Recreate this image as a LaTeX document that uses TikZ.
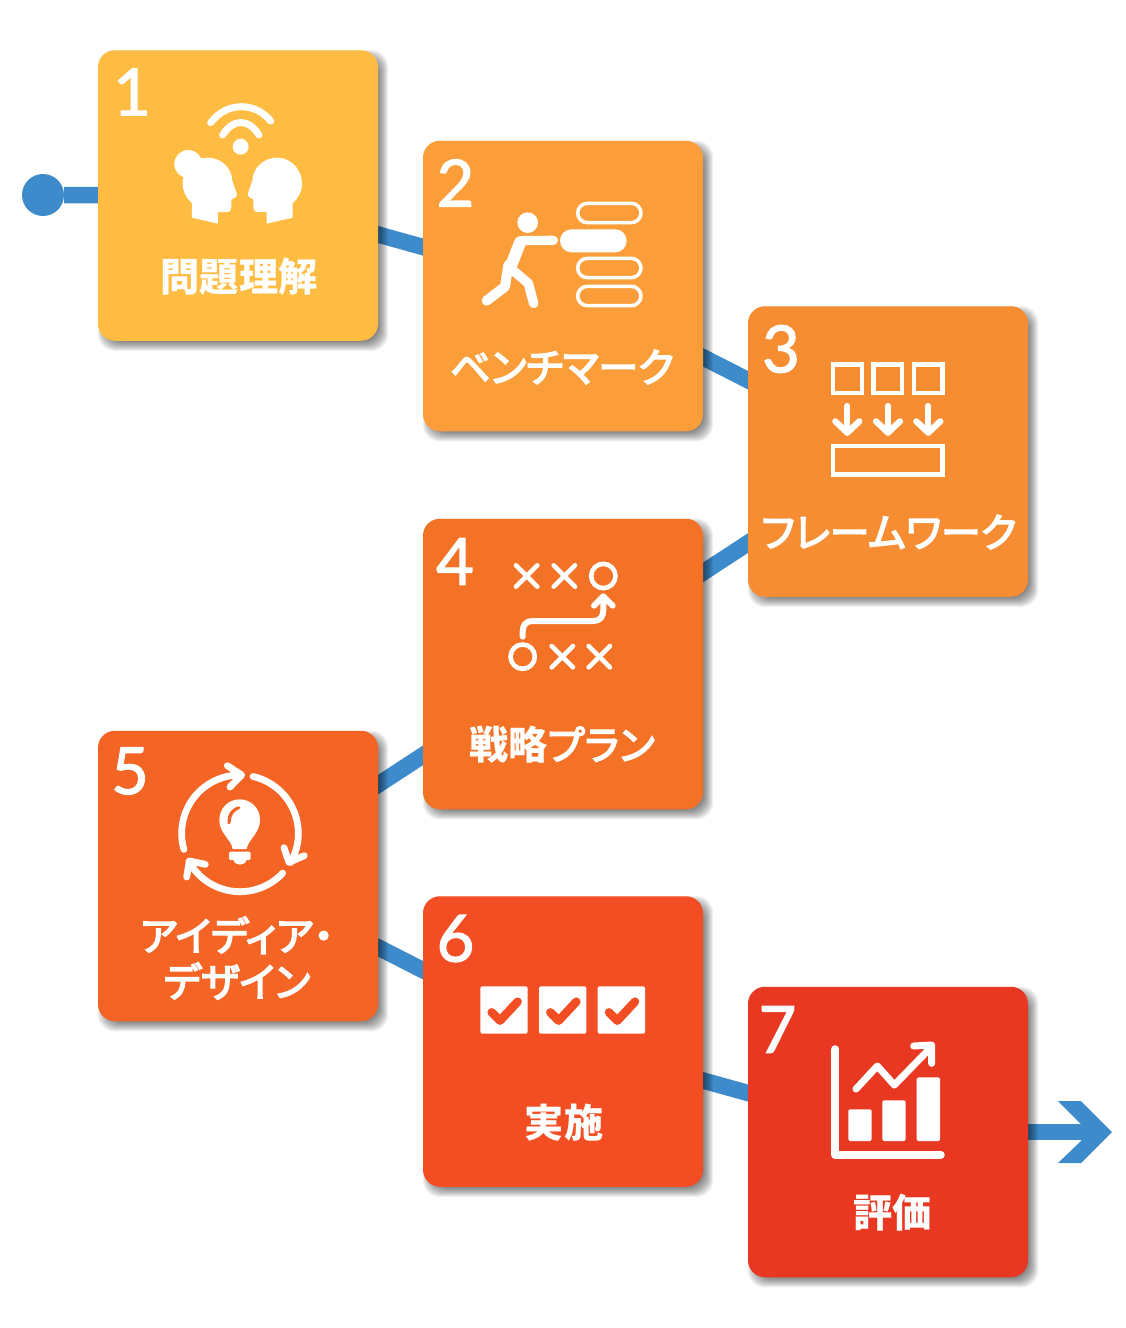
\documentclass[tikz,border=0pt]{standalone}
\usepackage{fontspec}
\usetikzlibrary{calc}
\setmainfont{Lato}
\newfontfamily\numfont[FakeBold=1.8]{Lato}
\newfontfamily\kanafont[RawFeature={+palt},FakeBold=4]{Noto Sans CJK JP}
\newfontfamily\kanjifont[RawFeature={+palt}]{Noto Sans CJK JP}
\definecolor{cA}{HTML}{FFBC42}
\definecolor{cB}{HTML}{FB9E3A}
\definecolor{cC}{HTML}{F68D32}
\definecolor{cD}{HTML}{F47225}
\definecolor{cE}{HTML}{F46424}
\definecolor{cF}{HTML}{F34E23}
\definecolor{cG}{HTML}{E93822}
\definecolor{flow}{HTML}{3E8BCB}
\pgfdeclarelayer{connlayer}
\pgfdeclarelayer{shadelayer}
\pgfsetlayers{connlayer,shadelayer,main}
\tikzset{
  card/.style={rectangle,rounded corners=17pt,minimum width=280pt,minimum height=290.5pt,inner sep=0pt,draw=none,fill=#1},
  numlabel/.style={text=white,inner sep=0pt,font=\numfont\fontsize{65}{65}\selectfont},
  jplabel/.style={text=white,inner sep=0pt,align=center,font=\kanafont\fontsize{40}{46}\selectfont},
  flowline/.style={draw=flow,line width=16.5pt},
  icon/.style={draw=white,line cap=round,line join=round},
  iconfill/.style={fill=white,draw=none}
}
\newcommand{\kj}[1]{{\kanjifont\bfseries\fontsize{39.2}{46}\selectfont #1}}
\newcommand{\cardshade}[1]{%
  \begin{pgfonlayer}{shadelayer}
  \foreach \d in {-5,...,5}{
    \fill[black,fill opacity=0.06,rounded corners=17pt]
      ($(#1.north west)+(5+\d,5+\d)$) rectangle ($(#1.south east)+(5-\d,5-\d)$);
  }
  \end{pgfonlayer}}
\begin{document}
\begin{tikzpicture}[x=1pt,y=-1pt]
\useasboundingbox (0,0) rectangle (1125,1328);
% cards
\node[card=cA] (s1) at (238,195.5) {};
\node[card=cB] (s2) at (563,286) {};
\node[card=cC] (s3) at (888,451.5) {};
\node[card=cD] (s4) at (563,664) {};
\node[card=cE] (s5) at (238,876) {};
\node[card=cF] (s6) at (563,1041.5) {};
\node[card=cG] (s7) at (888,1132) {};
\cardshade{s1}\cardshade{s2}\cardshade{s3}\cardshade{s4}\cardshade{s5}\cardshade{s6}\cardshade{s7}
% connectors
\node[circle,fill=flow,minimum size=42pt,inner sep=0pt] (startdot) at (43,195) {};
\coordinate (arrowneck) at (1085,1132);
\begin{pgfonlayer}{connlayer}
\draw[flowline] (startdot) -- (s1.center);
\draw[flowline] (s1.center) -- (s2.center);
\draw[flowline] (s2.center) -- (s3.center);
\draw[flowline] (s3.center) -- (s4.center);
\draw[flowline] (s4.center) -- (s5.center);
\draw[flowline] (s5.center) -- (s6.center);
\draw[flowline] (s6.center) -- (s7.center);
\draw[flowline] (s7.center) -- (arrowneck);
\fill[flow] (1058,1101) -- (1081,1101) -- (1112,1132) -- (1081,1163) -- (1058,1163) -- (1081,1141) -- (1081,1124) -- cycle;
\end{pgfonlayer}
% numbers
\node[numlabel] (n1) at (132,92) {1};
\node[numlabel] (n2) at (455.5,183) {2};
\node[numlabel] (n3) at (781,349) {3};
\node[numlabel] (n4) at (455,561.5) {4};
\node[numlabel] (n5) at (130,771) {5};
\node[numlabel] (n6) at (455.5,938.5) {6};
\node[numlabel] (n7) at (777.5,1029.5) {7};
% labels
\node[jplabel] (l1) at (239,277) {\kj{問題理解}};
\node[jplabel] (l2) at (562,367) {ベンチマーク};
\node[jplabel] (l3) at (889,532) {フレームワーク};
\node[jplabel] (l4) at (562,745) {\kj{戦略}プラン};
\node[jplabel] (l5) at (237,958) {アイディア・\\デザイン};
\node[jplabel] (l6) at (564,1123) {\kj{実施}};
\node[jplabel] (l7) at (892.5,1213) {\kj{評価}};
% icon 1
\begin{scope}[shift={(0,40)},scale=0.33333]
\fill[white] (722,320) circle (24);
\draw[icon,line width=7pt] (668,285) .. controls (700,235) and (745,235) .. (777,285);
\draw[icon,line width=7pt] (632,248) .. controls (680,185) and (765,185) .. (812,243);
\fill[white] (565,372) circle (42);
\def\headpath{(576,533) -- (654,551) -- (654,516) -- (680,516) .. controls (690,516) and (694,510) .. (694,502) -- (694,478) -- (706,472) .. controls (712,469) and (712,463) .. (709,457) -- (697,422) .. controls (695,380) and (660,353) .. (622,353) .. controls (580,353) and (548,390) .. (548,430) .. controls (548,455) and (560,475) .. (576,490) -- cycle}
\fill[white] \headpath;
\begin{scope}[shift={(1454,0)},xscale=-1]
\fill[white] \headpath;
\end{scope}
\end{scope}
% icon 2
\begin{scope}[shift={(420,140)},scale=0.33333]
\fill[white] (323,248) circle (31);
\draw[icon,line width=9.3pt] (300,302) -- (400,301);
\draw[icon,line width=12pt] (300,308) -- (272,380);
\draw[icon,line width=10pt] (265,375) -- (255,440) -- (200,482);
\draw[icon,line width=9.5pt] (280,392) -- (325,430) -- (341,490);
\draw[white,line width=3.5pt,rounded corners=9.7pt] (473,190) rectangle (663,248);
\fill[white,rounded corners=11.5pt] (420,268) rectangle (620,337);
\draw[white,line width=3.5pt,rounded corners=9.7pt] (473,355) rectangle (663,413);
\draw[white,line width=3.5pt,rounded corners=9.7pt] (473,439) rectangle (663,497);
\end{scope}
% icon 3
\begin{scope}[shift={(740,300)},scale=0.33333]
\draw[white,line width=4.3pt] (279.5,193.5) rectangle (365.5,279.5);
\draw[white,line width=4.3pt] (400.5,193.5) rectangle (486.5,279.5);
\draw[white,line width=4.3pt] (521.5,193.5) rectangle (607.5,279.5);
\draw[white,line width=4.3pt] (279.5,438.5) rectangle (607.5,523.5);
\foreach \ax in {322,444,565}{
  \draw[icon,line width=6.2pt] (\ax,318) -- (\ax,398);
  \draw[icon,line width=6.2pt] (\ax-36,364) -- (\ax,398) -- (\ax+36,364);
}
\end{scope}
% icon 4
\begin{scope}[shift={(420,515)},scale=0.33333]
\foreach \cx/\cy in {320/183,433/183,427/425,538/425}{
  \draw[icon,line width=4.6pt] (\cx-32,\cy-32) -- (\cx+32,\cy+32);
  \draw[icon,line width=4.6pt] (\cx-32,\cy+32) -- (\cx+32,\cy-32);
}
\draw[white,line width=4.6pt] (550,183) circle (36.5);
\draw[white,line width=4.6pt] (308,425) circle (36.5);
\draw[icon,line width=6pt] (308,365) -- (308,350) .. controls (308,330) and (318,318) .. (338,318) -- (520,318) .. controls (540,318) and (550,305) .. (550,285) -- (550,245);
\draw[icon,line width=6pt] (522,272) -- (550,244) -- (578,272);
\end{scope}
% icon 5
\begin{scope}[shift={(90,725)},scale=0.33333]
\draw[icon,line width=6.8pt] plot[domain=164:270,samples=40] ({450+175*cos(\x)},{325+175*sin(\x)});
\draw[icon,line width=6.8pt] plot[domain=-77:30,samples=40] ({450+175*cos(\x)},{325+175*sin(\x)});
\draw[icon,line width=6.8pt] plot[domain=43:151,samples=40] ({450+175*cos(\x)},{325+175*sin(\x)});
\draw[icon,line width=6.8pt] (412,122) -- (455,150) -- (420,186);
\draw[icon,line width=6.8pt] (582,368) -- (597,412) -- (643,392);
\draw[icon,line width=6.8pt] (290,456) -- (298,408) -- (346,418);
\fill[white] (428,372) .. controls (425,345) and (388,325) .. (388,285) .. controls (388,250) and (415,223) .. (449,223) .. controls (483,223) and (510,250) .. (510,285) .. controls (510,325) and (473,345) .. (470,372) -- cycle;
\fill[cE] (447,244) .. controls (425,248) and (410,268) .. (413,295) .. controls (416,300) and (421,300) .. (422,292) .. controls (422,272) and (432,258) .. (448,252) .. controls (452,250) and (452,244) .. (447,244) -- cycle;
\fill[white,rounded corners=1.5pt] (417,380) rectangle (482,405);
\fill[white] (430,404) .. controls (435,424) and (465,424) .. (470,404) -- cycle;
\end{scope}
% icon 6
\begin{scope}[shift={(420,890)},scale=0.33333]
\foreach \bx in {181,357,533}{
  \fill[white,rounded corners=2pt] (\bx,289) rectangle (\bx+142,431);
  \draw[cF,line width=8.5pt,line cap=round,line join=round] (\bx+34,367) -- (\bx+59,392) -- (\bx+112,335);
}
\end{scope}
% icon 7
\begin{scope}[shift={(740,980)},scale=0.33333]
\draw[icon,line width=8.2pt] (286,208) -- (286,524) -- (602,524);
\fill[white,rounded corners=1.5pt] (325,388) rectangle (395,483);
\fill[white,rounded corners=1.5pt] (427,361) rectangle (497,483);
\fill[white,rounded corners=1.5pt] (530,292) rectangle (600,483);
\draw[icon,line width=7pt] (348,327) -- (412,258) -- (463,315) -- (572,203);
\draw[icon,line width=7pt] (521,198) -- (575,195) -- (575,250);
\end{scope}
\end{tikzpicture}
\end{document}
